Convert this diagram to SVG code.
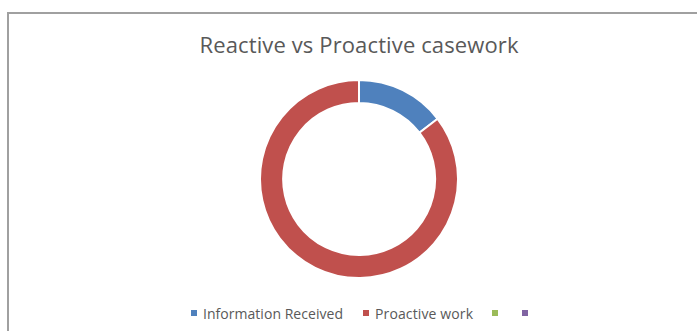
<svg xmlns="http://www.w3.org/2000/svg" width="697" height="331" viewBox="0 0 697 331">
<style>
.t{font-family:"Open Sans","Liberation Sans",sans-serif;fill:#595959}
.title{font-size:22px}
.leg{font-size:14px}
.sl{stroke:#fff;stroke-width:2}
</style>
<rect x="0" y="0" width="697" height="331" fill="#fff"/>
<path d="M8 331 V13 H697" fill="none" stroke="#a0a0a0" stroke-width="2"/>
<text class="t title" x="359" y="53" text-anchor="middle" textLength="319">Reactive vs Proactive casework</text>
<g id="chart">
<g id="slice-info">
<path class="sl" fill="#4f81bd" d="M359 80 A99 99 0 0 1 437.6 118.8 L419.4 132.7 A76 76 0 0 0 359 103 Z"/>
</g>
<g id="slice-proactive">
<path class="sl" fill="#c0504d" d="M437.6 118.8 A99 99 0 1 1 359 80 L359 103 A76 76 0 1 0 419.4 132.7 Z"/>
</g>
</g>
<g id="legend">
<rect x="191" y="310" width="6" height="6" fill="#4f81bd"/>
<text class="t leg" x="203" y="319" textLength="140">Information Received</text>
<rect x="363" y="310" width="6" height="6" fill="#c0504d"/>
<text class="t leg" x="375" y="319" textLength="98">Proactive work</text>
<rect x="492" y="310" width="6" height="6" fill="#9bbb59"/>
<rect x="522" y="310" width="6" height="6" fill="#8064a2"/>
</g>
</svg>
